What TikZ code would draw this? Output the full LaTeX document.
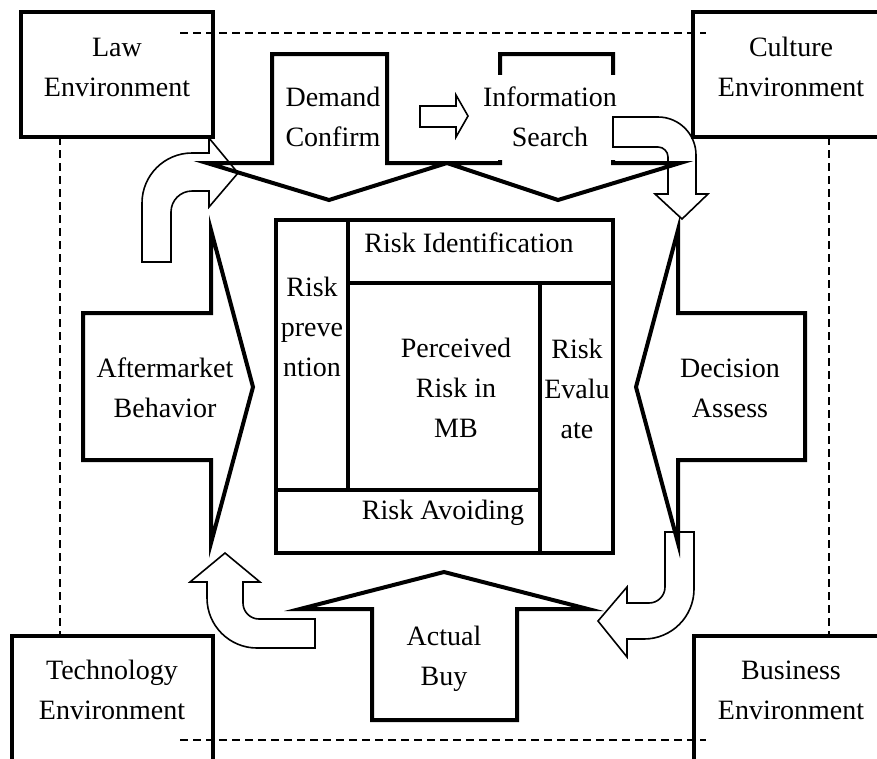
\documentclass[tikz,border=0pt]{standalone}
\usepackage{fontspec}
\setmainfont{Liberation Serif}
\usepackage{tikz}

\begin{document}
\begin{tikzpicture}[
		x=1pt, y=-1pt,
		% Style definitions for the frame, the big arrows and the core
		envbox/.style={draw, line width=4pt, rectangle, inner sep=0pt},
		bigarrow/.style={draw, line width=4pt, miter limit=12},
		bendarrow/.style={draw, line width=1.6pt},
		cell/.style={draw, line width=4pt},
		dashline/.style={line width=1.5pt, dash pattern=on 8pt off 5pt},
		txt/.style={font=\fontsize{28}{40}\selectfont, align=center, inner sep=0pt},
		]
		\useasboundingbox (0,0) rectangle (877,758);
		\clip (0,0) rectangle (877,758);

		% === Dashed frame between the environments ===
		\draw[dashline] (180,33) -- (706,33);
		\draw[dashline] (180,740) -- (706,740);
		\draw[dashline] (60,137) -- (60,636);
		\draw[dashline] (829,137) -- (829,636);

		% === Environment boxes (corners, cut by the page) ===
		\node[envbox, minimum width=192, minimum height=125] (law) at (117,74.5) {};
		\node[envbox, minimum width=192, minimum height=125] (culture) at (789,74.5) {};
		\node[envbox, minimum width=201, minimum height=125] (tech) at (112.5,698.5) {};
		\node[envbox, minimum width=201, minimum height=125] (business) at (794.5,698.5) {};
		\node[txt] (lawtxt) at (117,67) {Law\\Environment};
		\node[txt] (culturetxt) at (791,67) {Culture\\Environment};
		\node[txt] (techtxt) at (112,690) {Technology\\Environment};
		\node[txt] (businesstxt) at (791,690) {Business\\Environment};

		% === Big arrows round the core ===
		\draw[bigarrow] (272,54) -- (387,54) -- (387,163) -- (447,163) -- (329,200) -- (207,163) -- (272,163) -- cycle;
		\draw[bigarrow] (500,54) -- (613,54) -- (613,163) -- (680,163) -- (558,200) -- (447,163) -- (500,163) -- cycle;
		\draw[bigarrow] (83,313) -- (211,313) -- (211,230) -- (253,387) -- (211,543) -- (211,460) -- (83,460) -- cycle;
		\draw[bigarrow] (805,313) -- (678,313) -- (678,230) -- (636,387) -- (678,543) -- (678,460) -- (805,460) -- cycle;
		\draw[bigarrow] (372,720) -- (372,609) -- (300,609) -- (444,572) -- (588,609) -- (517,609) -- (517,720) -- cycle;

		\node[txt] (demand) at (333,117) {Demand\\Confirm};
		\node[txt, fill=white, inner xsep=5pt, minimum height=85] (search) at (550,117) {Information\\Search};
		\node[txt] (after) at (165,388) {Aftermarket\\Behavior};
		\node[txt] (decision) at (730,388) {Decision\\Assess};
		\node[txt] (buy) at (444,659) {Actual\\Buy};

		% === Small and bent arrows ===
		\draw[bendarrow] (420,106) -- (456,106) -- (456,95) -- (468,116) -- (456,137) -- (456,127) -- (420,127) -- cycle;
		% top right: search -> decision
		\draw[bendarrow] (613,117) -- (658,117) .. controls (679,117) and (696,134) .. (696,155) -- (696,194)
			-- (708,194) -- (682,219) -- (655,194) -- (668,194) -- (668,157)
			.. controls (668,151.5) and (663.5,147) .. (658,147) -- (613,147) -- cycle;
		% bottom right: decision -> buy
		\draw[bendarrow] (665,532) -- (694,532) -- (694,589) .. controls (694,616.6) and (671.6,639) .. (644,639)
			-- (627,639) -- (627,657) -- (598,621) -- (627,587) -- (627,603) -- (649,603)
			.. controls (657.8,603) and (665,595.8) .. (665,587) -- cycle;
		% bottom left: buy -> aftermarket
		\draw[bendarrow] (315,648) -- (257,648) .. controls (229.4,648) and (207,625.6) .. (207,598)
			-- (207,582) -- (190,582) -- (225,553) -- (260,582) -- (243,582) -- (243,603)
			.. controls (243,611.8) and (250.2,619) .. (259,619) -- (315,619) -- cycle;
		% top left: aftermarket -> demand
		\draw[bendarrow] (142,262) -- (142,203) .. controls (142,175.4) and (164.4,153) .. (192,153)
			-- (209,153) -- (209,138) -- (238,173) -- (209,207) -- (209,191) -- (192,191)
			.. controls (180.4,191) and (171,200.4) .. (171,212) -- (171,262) -- cycle;

		% === Core: perceived risk ===
		\draw[cell] (276,220) rectangle (613,553);
		\draw[cell] (348,220) -- (348,490);
		\draw[cell] (348,283) -- (613,283);
		\draw[cell] (540,283) -- (540,553);
		\draw[cell] (276,490) -- (540,490);

		\node[txt] (riskid) at (469,243) {Risk Identification};
		\node[txt] (prevent) at (312,327) {Risk\\preve\\ntion};
		\node[txt] (perceived) at (456,388) {Perceived\\Risk in\\MB};
		\node[txt] (evaluate) at (577,389) {Risk\\Evalu\\ate};
		\node[txt] (avoid) at (443,513) {Risk Avoiding};

	\end{tikzpicture}
\end{document}
